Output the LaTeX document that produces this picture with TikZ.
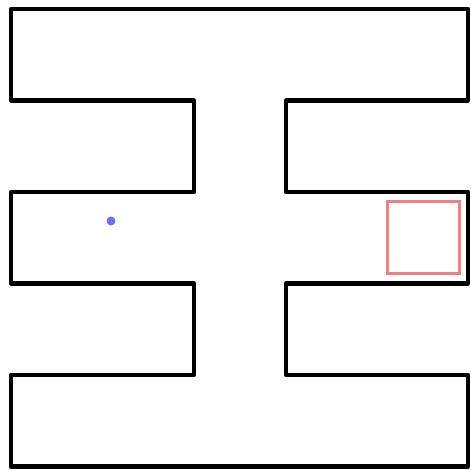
\documentclass[tikz,border=0pt]{standalone}
\definecolor{wallc}{RGB}{0,0,0}
\definecolor{goalc}{RGB}{240,128,128}
\definecolor{agentc}{RGB}{110,110,255}
\tikzset{
  wall/.style={draw=wallc, line width=4.2pt, line join=round},
  goal/.style={draw=goalc, line width=3.8pt},
  agent/.style={fill=agentc, draw=none}
}
\begin{document}
\begin{tikzpicture}[x=1pt,y=-1pt]
\useasboundingbox (0,0) rectangle (471,469);
\draw[wall] (11,9) -- (468,9) -- (468,100.5) -- (286,100.5) -- (286,192) -- (468,192) -- (468,283.5) -- (286,283.5) -- (286,375) -- (468,375) -- (468,466.5) -- (11,466.5) -- (11,375) -- (194,375) -- (194,283.5) -- (11,283.5) -- (11,192) -- (194,192) -- (194,100.5) -- (11,100.5) -- cycle;
\node[goal, minimum width=72pt, minimum height=72pt, inner sep=0pt] (goal) at (423.5,237.5) {};
\node[agent, circle, minimum size=9pt, inner sep=0pt] (agent) at (111,221) {};
\end{tikzpicture}
\end{document}
